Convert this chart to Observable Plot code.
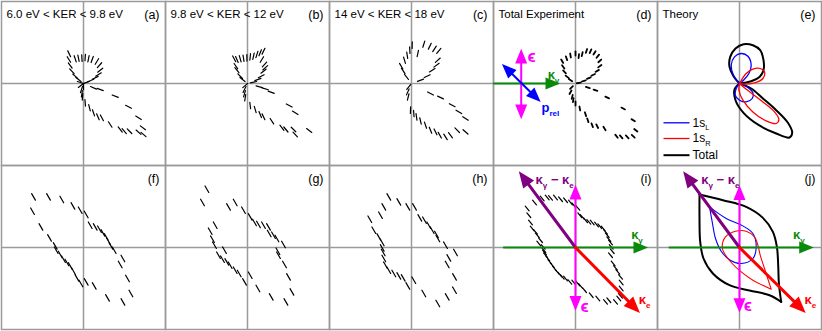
<!DOCTYPE html>
<html><head><meta charset="utf-8">
<script src="https://cdn.jsdelivr.net/npm/d3@7"></script>
<script src="https://cdn.jsdelivr.net/npm/@observablehq/plot@0.6"></script>
<style>
body{margin:0;background:#fff;}
#chart svg{display:block;}
</style>
</head><body><div id="chart"></div>
<script>
// ---------- panel texts ----------
const panelTitles = ["6.0 eV < KER < 9.8 eV", "9.8 eV < KER < 12 eV", "14 eV < KER < 18 eV", "Total Experiment", "Theory", "", "", "", "", ""];
const panelLabels = ["(a)", "(b)", "(c)", "(d)", "(e)", "(f)", "(g)", "(h)", "(i)", "(j)"];

// ---------- measured angular distributions (panel units, origin at centre, y up) ----------
const ptsA = [[-14.3,29.7],[-14.6,24],[-13.3,18],[-11.6,12.3],[-8.3,7.3],[-5,4],[-8.3,24.7],[-5,25.3],[-1.6,25.3],[1.7,26],[5,24.7],[8.7,24],[13.4,22],[16,18.3],[16.7,13.3],[15,9],[11.7,5.7],[7.3,3],[2.7,1],[-3,1],[-2.6,-2],[0,-3],[-2,-6],[-1.6,-10.3],[-1,-13.3],[10,-4.3],[16.7,-6],[31.7,-12.7],[45,-23.3],[55,-34.3],[59.4,-44.3],[60,-51],[55,-48.7],[46,-47.7],[40.7,-47.7],[36.7,-46],[26.7,-41],[18.4,-34.3],[14.4,-33.3],[10,-29.3],[6,-24.3],[1.7,-19.3]];
const ptsB = [[-13.3,24.7],[-11.6,17.3],[-10.6,13.3],[-7.3,7.3],[-5,4],[-10.6,24],[-7.3,24.7],[-4,25.3],[-0.6,25.7],[2.7,26.7],[6,27.3],[9.4,29],[12.7,30.7],[16,32.3],[14.4,24],[17,19],[17.7,15.7],[16,12.3],[13.7,7.3],[10.4,4],[6,1.3],[-2.3,-2],[-3,-6],[-3,-10.3],[-2.3,-14.3],[11.7,-3.3],[17.7,-5.3],[23.7,-8.7],[41.7,-22],[47.7,-29.3],[61.7,-47],[47.7,-51],[46,-46],[38.4,-46],[34.4,-44.3],[24.4,-37.7],[16,-33.3],[12.7,-31],[7.7,-26],[2.7,-22]];
const ptsC = [[0.7,38.3],[-1.7,33.3],[-4.3,28.3],[-7,23.3],[-10.3,17.3],[-8.3,12.6],[-5,6.6],[6.3,30],[12.3,39.3],[18.3,37.3],[23,34.6],[27.3,32.6],[26.3,23.3],[25,18.3],[20.7,13.3],[15.7,7.3],[9,3.3],[-2.7,-3.4],[-3.7,-8.4],[-3.3,-13.4],[19,-10],[29,-14],[40.7,-21.7],[47.3,-28.4],[54,-35],[54,-48.4],[45.7,-46.7],[39,-51.7],[34,-53.4],[28.3,-51.7],[24,-48.4],[19,-46.7],[14,-41.7],[9,-37.4],[5,-33.4],[2.3,-30],[-1,-26.7]];
const ptsD = [[-13.3,22.3],[-12.3,16.6],[-11,11.6],[-8.3,6.6],[-5,3.3],[-9,25.3],[-5,28],[0,30],[3.3,27.3],[6.7,29.3],[11,32.6],[15,32.3],[19,30.6],[22.3,27.3],[24.3,22.6],[24.3,17.3],[21.7,12.6],[17.7,8.6],[13.3,5.3],[8.3,2.6],[3.3,0.6],[-4,-4],[-5,-8.7],[-3.3,-13.4],[12.3,-4],[20,-6.7],[31.7,-14],[47.7,-25],[57.7,-36.7],[60.3,-46.7],[57.7,-52.7],[51.7,-53.4],[45.7,-53.4],[41,-52.7],[29,-45],[21.7,-42.7],[16.7,-41.7],[12.3,-36.7],[10,-30.7],[4.3,-25],[0,-20],[-2.3,-16.7]];
const ptsF = [[-50,50.6],[-35,50.6],[-21.7,48],[-10.6,41.6],[-3.3,37.3],[2.7,33],[-51,36.3],[-42.6,20.6],[-34,9.6],[-28.3,1.6],[-27.3,-2.7],[-23.3,-7],[-20,-11.7],[-16.6,-15],[-13.3,-18.4],[-10,-23.7],[-6.6,-30.4],[-2.6,-36],[2.7,-34.4],[10.7,-38.4],[24,-50.4],[39.4,-54.4],[47.4,-46],[44,-31],[36.7,-17],[39.4,-11],[30.7,-2.7],[27.4,1.6],[25,6.3],[22.7,10.6],[19.4,14.6],[16,18.3],[11.7,20.6],[6.7,22.3]];
const ptsG = [[-40.6,58.3],[-45,45],[-19,40.6],[-12.3,45],[-4,37.3],[2.7,30.6],[7,25],[11,23],[16,22.3],[21,20.6],[21.7,14],[26,12.3],[29.4,9],[36,3],[30.4,-3.7],[31,-7.7],[37,-17],[41,-29.4],[44.4,-44.4],[38.4,-54.4],[23.7,-49.4],[10.4,-41],[2.7,-27.7],[-3,-34.4],[-8.3,-26],[-12.3,-22.7],[-17.3,-17.7],[-20.7,-14.4],[-25,-11.7],[-29,-7.7],[-23,-2.7],[-33,2.3],[-35,8.3],[-37.3,16.3],[-32.3,22.3]];
const ptsH = [[-22.7,50.6],[-12.7,45.6],[-3.7,40.6],[3,40.6],[-27.7,40.6],[-31,32.3],[-41.7,28.3],[-37.7,17.3],[-32.7,10.6],[-29.3,5],[-29.3,-0.4],[-28.3,-5],[-27.7,-11],[-26,-17.7],[-22.7,-22.7],[-17.7,-26],[-12.7,-28.4],[-8.3,-30.4],[-3.7,-38.4],[2.3,-32.7],[12.3,-46],[26.3,-56],[35.7,-49.4],[43,-42.7],[43,-29.4],[35.7,-17],[37.3,-10.4],[44,-5],[34,2.3],[26.3,9],[25,13],[20.7,17.3],[17.3,22.3],[13,27.3],[8.3,29.6]];
const ptsI = [[-48.3,39],[-45,25],[-40,15.6],[-35,7.3],[-32.3,0.6],[-31,-5],[-27.7,-11],[-23.3,-17.7],[-18.3,-24.4],[-13.3,-29.4],[-5.7,-34.4],[2.3,-36],[9,-42.7],[15.7,-47.7],[22.3,-51],[30,-54.4],[40,-54.4],[45,-48.4],[45.7,-35],[42.3,-24.4],[37.7,-16],[35,-7.7],[35.7,0.6],[33.3,8.3],[30,15.6],[24.3,21.3],[13.3,25.6],[6.7,30.6],[2.3,39.6],[-5,45],[-15,48.3],[-25,49.6],[-33.3,49],[-41,45],
  [-28.3,50],[-20,50],[-10,47.3],[-1.7,42.3],[4.3,32.3],[10,27.3],[-31.7,-2.7],[-30,-7.7],[-25.7,-14.4],[-21,-21],[-15.7,-27],[-10,-31],[-1.7,-35],[5,-38.4],[33.3,-52.7],[43.3,-51],[45.7,-41],[45,-29.4],[40,-20.4],[36.7,-3.7],[35,5],[31.7,12.3],[27.7,19],[21,23],[16.7,25],[-46.7,32.3],[-43.3,19],[-38.3,12.3],[-36.7,4]];

// ---------- theory curves ----------
const eTotalUpper = [[0,0],[-6,7.3],[-10,16.6],[-9.3,26.6],[-4,35],[4,39.3],[13.4,38.3],[20.7,33.3],[24,23.3],[24,13.3],[20,6.6],[11.7,2.3],[0,0]];
const eTotalLower = [[0,0],[-5,-6],[-4,-16.7],[4,-29.3],[19.4,-41.7],[36.7,-50],[50,-54],[52.7,-49.3],[48.4,-39.3],[36.7,-26.7],[23.4,-15],[11.7,-5],[0,0]];
const e1sLUpper = [[0,0],[-6,8.3],[-8.3,18.3],[-5,26.6],[1.7,30],[8.4,27.3],[11.7,18.3],[9.4,10],[4,3.3],[0,0]];
const e1sLLower = [[0,0],[-3.3,-5],[-4.3,-11.7],[0,-16.7],[6.7,-18.4],[12.7,-15],[13.4,-9.4],[8.4,-4],[0,0]];
const e1sRUpper = [[0,0],[6.7,10],[13.4,14.3],[20.7,15],[25,11.6],[23.4,5],[15,0.6],[5,-0.7],[0,0]];
const e1sRLower = [[0,0],[-0.6,-6.7],[3.4,-16.7],[13.4,-28.4],[26.7,-37.4],[36.7,-40],[39.4,-36],[35,-28.4],[23.4,-18.4],[11.7,-9.4],[4,-3.4],[0,0]];
const jTotalTop = [[-40,53],[-16.6,47.3],[6.7,40.6],[23.4,29.6],[33.4,15.6],[37.4,0.6],[38.7,-17.7],[39.4,-36],[41.7,-54.4]];
const jTotalBottom = [[41.7,-54.4],[30,-47.7],[10,-43],[-10,-37.7],[-26.6,-26],[-36,-11],[-39.3,5.6],[-40,29],[-40,53]];
const j1sL = [[-30,40.6],[-27.3,25.6],[-24,9],[-18.3,-3.7],[-9.3,-12.7],[1.7,-16],[13.4,-11],[16.7,0.6],[13.4,14],[3.3,21.6],[-13.3,29],[-30,40.6]];
const j1sR = [[31.7,-41.7],[13.4,-32.7],[1.7,-24.4],[-8.3,-15],[-15,-6],[-17.3,0.6],[-14,10.6],[-4,16.3],[6.7,16.3],[15,10.6],[18.4,2.3],[20.7,-7.7],[25,-21],[31.7,-41.7]];

// ---------- legend of panel (e) ----------
const legendNames = ["1s_L", "1s_R", "Total"];
const legendY = [-39.3, -55, -71.7];

// ---------- vectors: [name, x1, y1, x2, y2] ----------
const arrowsD = [["kg",-81.7,0,-18,0],["eps",-54.3,0,-54.3,32],["eps",-54.3,0,-54.3,-33],["prel",-54.2,0.5,-71.7,17.7],["prel",-54.2,0.5,-36.7,-16.7]];
const arrowsI = [["kg",-71.7,0,70,0],["eps",0,0,0,60],["eps",0,0,0,-60.5],["kgke",0,0,-54.3,73],["ke",0,0,61.7,-62.7]];
const arrowsJ = [["kg",-70,0,71.7,0],["eps",0,0,0,59.6],["eps",0,0,0,-62.7],["kgke",0,0,-54,73],["ke",0,0,63.4,-62.7]];
// vector labels: [name, text, x, y]
const vlabelsD = [["kg","κ_γ",-22,9],["eps","ϵ",-44,27],["prel","p_rel",-34,-24]];
const vlabelsI = [["kgke","κ_γ − κ_e",-40,67.3],["kg","κ_γ",61.5,12.3],["ke","κ_e",63.3,-52.7],["eps","ϵ",9,-59.3]];
const vlabelsJ = [["kgke","κ_γ − κ_e",-38.3,67.3],["kg","κ_γ",59.4,12.3],["ke","κ_e",65,-52.7],["eps","ϵ",8.4,-57.7]];

// ---------- styles ----------
const vecColor = {kg: "#0a8a0a", eps: "#ff00ff", prel: "#0000ff", kgke: "#800080", ke: "#ff0000"};
const vecWidth = {kg: 2, eps: 2, prel: 2, kgke: 3, ke: 3};
const grid = "#9a9a9a";

// ---------- build tables ----------
const col = p => p % 5, row = p => Math.floor(p / 5);
const panels = panelLabels.map((l, p) => ({p, col: col(p), row: row(p), label: l, title: panelTitles[p]}));
function dashes(p, pts, kind) { return pts.map(([x, y]) => ({col: col(p), row: row(p), x, y, kind})); }
const dashRows = [
  ...dashes(0, ptsA, "radial"), ...dashes(1, ptsB, "radial"), ...dashes(2, ptsC, "radial"),
  ...dashes(3, ptsD, "dot"),
  ...dashes(5, ptsF, "slant"), ...dashes(6, ptsG, "slant"), ...dashes(7, ptsH, "slant"), ...dashes(8, ptsI, "slantI")
];
function curve(p, pts, id, color, w) { return pts.map(([x, y]) => ({col: col(p), row: row(p), x, y, id, color, w})); }
const curveRows = [
  ...curve(4, eTotalUpper, "eTU", "black", 2), ...curve(4, eTotalLower, "eTL", "black", 2),
  ...curve(4, e1sLUpper, "eLU", "#0000ff", 1.3), ...curve(4, e1sLLower, "eLL", "#0000ff", 1.3),
  ...curve(4, e1sRUpper, "eRU", "#ff0000", 1.3), ...curve(4, e1sRLower, "eRL", "#ff0000", 1.3),
  ...curve(9, jTotalTop, "jTT", "black", 2), ...curve(9, jTotalBottom, "jTB", "black", 2),
  ...curve(9, j1sL, "jL", "#0000ff", 1.1), ...curve(9, j1sR, "jR", "#ff0000", 1.1)
];
const legendColors = ["#0000ff", "#ff0000", "black"];
const legendRows = legendNames.map((n, i) => ({col: 4, row: 0, name: n, y: legendY[i], color: legendColors[i]}));
function arrows(p, list) { return list.map(([n, x1, y1, x2, y2]) => ({col: col(p), row: row(p), n, x1, y1, x2, y2})); }
const arrowRows = [...arrows(3, arrowsD), ...arrows(8, arrowsI), ...arrows(9, arrowsJ)];
function vlabels(p, list) { return list.map(([n, t, x, y]) => ({col: col(p), row: row(p), n, t, x, y})); }
const vlabelRows = [...vlabels(3, vlabelsD), ...vlabels(8, vlabelsI), ...vlabels(9, vlabelsJ)];

// ---------- shapes ----------
const dashShape = {draw(ctx, l) { ctx.moveTo(0, 0); ctx.lineTo(0, -l); }};
const arrowShape = {draw(ctx, l) {
  const h = 11, w = 4.5;
  ctx.moveTo(0, 0); ctx.lineTo(0, -(l - h + 1));
  ctx.moveTo(-w, -(l - h)); ctx.lineTo(0, -l); ctx.lineTo(w, -(l - h)); ctx.closePath();
}};
const dashLen = {radial: 6.5, dot: 4, slant: 7.5, slantI: 6};
const dashRot = d => d.kind === "slant" ? -30 : d.kind === "slantI" ? -40 : Math.atan2(d.x, d.y) * 180 / Math.PI;
const font = "'Liberation Sans', Arial, Helvetica, sans-serif";

const dashMarks = Object.keys(dashLen).map(k => Plot.vector(dashRows.filter(d => d.kind === k), {
  x: "x", y: "y", fx: "col", fy: "row", rotate: dashRot, length: dashLen[k], anchor: "middle",
  shape: dashShape, stroke: "black", strokeWidth: k === "dot" ? 1.8 : 1.2
}));
const startAnchored = new Set(["kgke", "prel", "ke"]);

const chart = Plot.plot({
  width: 822, height: 331,
  marginTop: 1, marginLeft: 1, marginRight: 1, marginBottom: 2,
  x: {domain: [-82, 82], axis: null},
  y: {domain: [-82, 82], axis: null},
  fx: {domain: [0, 1, 2, 3, 4], padding: 0, axis: null},
  fy: {domain: [0, 1], padding: 0, axis: null},
  color: {type: "identity"},
  length: {type: "linear", domain: [0, 300], range: [0, 300]},
  style: {fontFamily: font, background: "white", overflow: "visible"},
  marks: [
    Plot.ruleX([0], {stroke: grid, strokeWidth: 1.5}),
    Plot.ruleY([0], {stroke: grid, strokeWidth: 1.5}),
    Plot.frame({stroke: grid, strokeWidth: 1.5}),
    ...dashMarks,
    Plot.line(curveRows, {x: "x", y: "y", fx: "col", fy: "row", z: "id", stroke: "color", strokeWidth: "w", curve: "catmull-rom"}),
    Plot.link(legendRows, {x1: -76, x2: -50, y1: "y", y2: "y", fx: "col", fy: "row", stroke: "color", strokeWidth: d => d.color === "black" ? 2 : 1.3}),
    Plot.text(legendRows, {x: -47, y: "y", fx: "col", fy: "row", text: "name", textAnchor: "start", fontSize: 12, fill: "black"}),
    Plot.vector(arrowRows, {
      x: "x1", y: "y1", fx: "col", fy: "row", anchor: "start", shape: arrowShape,
      length: d => Math.hypot(d.x2 - d.x1, d.y2 - d.y1),
      rotate: d => Math.atan2(d.x2 - d.x1, d.y2 - d.y1) * 180 / Math.PI,
      stroke: d => vecColor[d.n], fill: d => vecColor[d.n], strokeWidth: d => vecWidth[d.n], strokeLinejoin: "miter"
    }),
    Plot.text(vlabelRows.filter(d => startAnchored.has(d.n)), {x: "x", y: "y", fx: "col", fy: "row", text: "t", fill: d => vecColor[d.n], fontSize: 13, fontWeight: "bold", textAnchor: "start"}),
    Plot.text(vlabelRows.filter(d => d.n === "kg"), {x: "x", y: "y", fx: "col", fy: "row", text: "t", fill: d => vecColor[d.n], fontSize: 13, fontWeight: "bold"}),
    Plot.text(vlabelRows.filter(d => d.n === "eps"), {x: "x", y: "y", fx: "col", fy: "row", text: "t", fill: d => vecColor[d.n], fontSize: 17, fontWeight: "bold"}),
    Plot.text(panels, {fx: "col", fy: "row", text: "title", frameAnchor: "top-left", dx: 5, dy: 13, lineAnchor: "middle", fontSize: 11.5, fill: "black"}),
    Plot.text(panels, {fx: "col", fy: "row", text: "label", frameAnchor: "top-right", dx: -6, dy: 13, lineAnchor: "middle", fontSize: 12.5, fill: "black"})
  ]
});
document.getElementById("chart").appendChild(chart);

// ---------- subscripts: "_xyz" renders xyz as a subscript ----------
chart.querySelectorAll("text").forEach(t => {
  const s = t.textContent;
  if (!s.includes("_")) return;
  const fs = parseFloat(getComputedStyle(t).fontSize) || 12;
  const parts = s.split(/(_\S+)/).filter(x => x);
  while (t.firstChild) t.removeChild(t.firstChild);
  let shift = 0;
  for (const part of parts) {
    const ts = document.createElementNS("http://www.w3.org/2000/svg", "tspan");
    if (part.startsWith("_")) {
      ts.textContent = part.slice(1);
      ts.setAttribute("font-size", (fs * 0.62).toFixed(1));
      ts.setAttribute("dy", (fs * 0.3 - shift).toFixed(1));
      shift = fs * 0.3;
    } else {
      ts.textContent = part;
      ts.setAttribute("dy", (-shift).toFixed(1));
      shift = 0;
    }
    ts.setAttribute("style", "white-space:pre");
    t.appendChild(ts);
  }
});
</script>
</body></html>
